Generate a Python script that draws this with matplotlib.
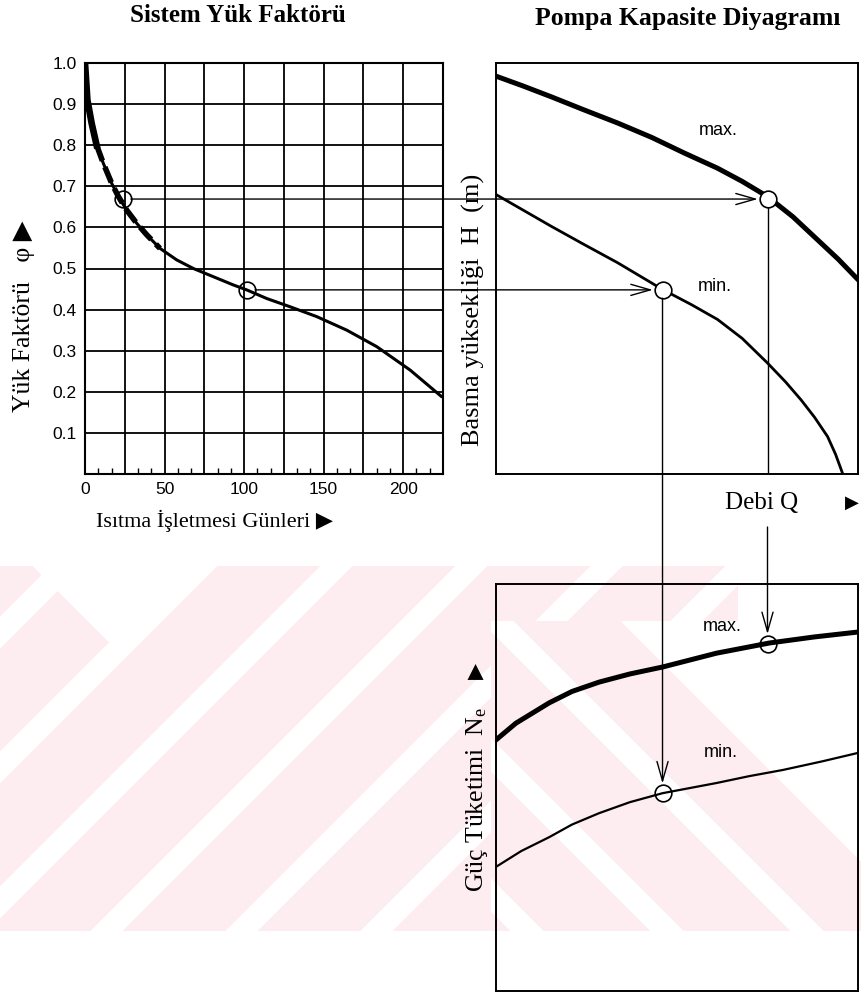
import numpy as np
import matplotlib
matplotlib.use("Agg")
import matplotlib.pyplot as plt
from matplotlib.patches import ConnectionPatch
from matplotlib import transforms

plt.rcParams["mathtext.fontset"] = "custom"
plt.rcParams["mathtext.rm"] = "Liberation Serif"
plt.rcParams["mathtext.it"] = "Liberation Serif"

SERIF = ["Liberation Serif", "DejaVu Sans"]
SANS = ["Liberation Sans", "DejaVu Sans"]

# Sistem yük faktörü eğrisi (ısıtma günü, φ)
days = [0, 1.5, 4.2, 7.3, 11.5, 16.8, 21.0, 26.2, 32.5, 38.8, 47.1, 57.6,
        68.1, 80.7, 93.2, 101.6, 114.2, 128.8, 145.6, 164.5, 183.3, 204.3, 224.2]
phi = [1.0, 0.91, 0.853, 0.80, 0.756, 0.707, 0.675, 0.642, 0.61, 0.582, 0.549, 0.521,
       0.50, 0.48, 0.46, 0.448, 0.427, 0.407, 0.383, 0.35, 0.31, 0.253, 0.188]
op_days = [23.6, 101.6]
op_phi = [0.669, 0.448]
x_ticks = [0, 50, 100, 150, 200]
y_ticks = [0.1, 0.2, 0.3, 0.4, 0.5, 0.6, 0.7, 0.8, 0.9, 1.0]

# Pompa karakteristiği (Q, H) - max / min devir
q_hmax = [0, 7.5, 15.2, 24, 33.6, 43, 52.0, 61.2, 68, 75.0, 82, 88.8, 94.5, 100]
h_max = [96.8, 94.4, 91.8, 88.7, 85.4, 81.9, 78.1, 74.4, 71.2, 67.5, 62.6, 57.0, 52.3, 47.3]
q_hmin = [0, 7.5, 15.2, 24, 33.6, 46.0, 54, 61.2, 68, 75.0, 80, 84.3, 88, 91.6, 93.8, 95.8]
h_min = [68.0, 64.2, 60.3, 56.0, 51.4, 44.9, 41.2, 37.6, 33.0, 27.0, 22.4, 18.0, 13.8, 9.1, 4.8, 0]
op_q = [75.0, 46.0]
op_h = [66.9, 44.8]

# Güç tüketimi (Q, Ne)
q_nmax = [0, 5.5, 14.7, 21, 28.5, 37, 46.0, 60.9, 75.5, 88, 100]
n_max = [61.7, 65.8, 70.8, 73.6, 75.9, 77.9, 79.6, 83.0, 85.5, 87.0, 88.2]
q_nmin = [0, 7, 14.7, 21, 28.5, 37, 46.0, 60.9, 70, 79.2, 90, 100]
n_min = [30.5, 34.4, 37.8, 40.9, 43.7, 46.4, 48.6, 51.1, 52.8, 54.3, 56.4, 58.5]
op_n = [85.3, 48.6]

W, H = 861, 994
fig = plt.figure(figsize=(W / 100, H / 100), dpi=100)


def fx(px):
    return px / W


def fy(py):
    return 1 - py / H


# background watermark (pale pink stripes)
bg = fig.add_axes([0, 0, 1, 1], zorder=-10)
Yg, Xg = np.mgrid[0:H, 0:W]
band = (Yg >= 566) & (Yg <= 930)
back_zone = (Xg > 490) & (Yg > 620)
slash_gap = ((Xg + Yg - 886) % 135) < 32
v_gap = (Xg - Yg > -534) & (Xg + Yg < 783)
slash_part = ~back_zone & ~slash_gap & ~v_gap & (Xg <= 737)
back_gap = ((Xg - Yg + 280) % 140) < 33
back_part = back_zone & ~back_gap & ((Xg - Yg) < 0)
mask = band & (slash_part | back_part)
img = np.ones((H, W, 3))
img[mask] = np.array([253, 236, 240]) / 255
bg.imshow(img, extent=[0, W, H, 0], aspect="auto", interpolation="nearest")
bg.set_axis_off()

# --- Sistem Yük Faktörü ---
ax1 = fig.add_axes([fx(85), fy(474), fx(358), 411 / H])
ax1.set_facecolor("none")
ax1.plot(days, phi, color="black", lw=2.2, solid_capstyle="round", zorder=3)
ax1.plot(days[:4], phi[:4], color="black", lw=4.8, zorder=3)
ax1.plot(days[3:11], phi[3:11], color="black", lw=4, dashes=(3, 1.2), zorder=3)
ax1.plot(op_days, op_phi, "o", ms=12, mfc="none", mec="black", mew=1.2, zorder=4)
ax1.set_xlim(0, 225)
ax1.set_ylim(0, 1.0)
ax1.set_xticks(np.arange(0, 226, 25))
ax1.set_xticklabels([str(v) if v in x_ticks else "" for v in range(0, 226, 25)])
ax1.set_xticks(np.arange(0, 225, 25 / 3), minor=True)
ax1.set_yticks(y_ticks)
ax1.set_yticklabels([f"{v:.1f}" for v in y_ticks])
ax1.grid(True, which="major", color="black", lw=1.3)
ax1.tick_params(which="major", length=0, labelsize=12.5, pad=6)
ax1.tick_params(which="minor", direction="in", length=4, width=1, left=False)
for lab in ax1.get_xticklabels() + ax1.get_yticklabels():
    lab.set_family(SANS)
for s in ax1.spines.values():
    s.set_linewidth(1.5)

# --- Pompa Kapasite Diyagramı ---
ax2 = fig.add_axes([fx(496), fy(474), fx(362), 411 / H])
ax2.set_facecolor("none")
ax2.plot(q_hmax, h_max, color="black", lw=3.6, zorder=3)
ax2.plot(q_hmin, h_min, color="black", lw=2.0, zorder=3)
ax2.plot(op_q, op_h, "o", ms=12, mfc="white", mec="black", mew=1.2, zorder=4)
ax2.set_xlim(0, 100)
ax2.set_ylim(0, 100)
ax2.set_xticks([])
ax2.set_yticks([])
for s in ax2.spines.values():
    s.set_linewidth(1.4)
ax2.text(61.5, 83.5, "max.", family=SANS, fontsize=13, ha="center", va="center")
ax2.text(60.5, 45.5, "min.", family=SANS, fontsize=13, ha="center", va="center")
ax2.plot([op_q[0], op_q[0]], [op_h[0], 0], color="black", lw=1.0, zorder=2)

# --- Güç Tüketimi ---
ax3 = fig.add_axes([fx(496), fy(991), fx(362), 407 / H])
ax3.set_facecolor("none")
ax3.plot(q_nmax, n_max, color="black", lw=3.6, zorder=3)
ax3.plot(q_nmin, n_min, color="black", lw=1.6, zorder=3)
ax3.plot(op_q, op_n, "o", ms=12, mfc="none", mec="black", mew=1.2, zorder=4)
ax3.set_xlim(0, 100)
ax3.set_ylim(0, 100)
ax3.set_xticks([])
ax3.set_yticks([])
for s in ax3.spines.values():
    s.set_linewidth(1.4)
ax3.text(62.5, 89.5, "max.", family=SANS, fontsize=13, ha="center", va="center")
ax3.text(62, 58.5, "min.", family=SANS, fontsize=13, ha="center", va="center")

arrow = "->,head_length=1.4,head_width=0.4"
# φ -> H
for i in range(2):
    con = ConnectionPatch(xyA=(op_days[i], op_phi[i]), coordsA=ax1.transData,
                          xyB=(op_q[i], op_h[i]), coordsB=ax2.transData,
                          arrowstyle=arrow, shrinkA=6, shrinkB=7,
                          color="black", lw=1.0, zorder=5)
    fig.add_artist(con)
# Q (max) -> Ne (max)
blend = transforms.blended_transform_factory(ax3.transData, fig.transFigure)
con = ConnectionPatch(xyA=(op_q[0], fy(527)), coordsA=blend,
                      xyB=(op_q[0], op_n[0]), coordsB=ax3.transData,
                      arrowstyle=arrow, shrinkA=0, shrinkB=7,
                      color="black", lw=1.0, zorder=5)
fig.add_artist(con)
# Q (min) -> Ne (min)
con = ConnectionPatch(xyA=(op_q[1], op_h[1]), coordsA=ax2.transData,
                      xyB=(op_q[1], op_n[1]), coordsB=ax3.transData,
                      arrowstyle=arrow, shrinkA=6, shrinkB=7,
                      color="black", lw=1.0, zorder=5)
fig.add_artist(con)

# titles and axis labels
fig.text(fx(238), fy(15), "Sistem Yük Faktörü", family=SERIF, weight="bold",
         fontsize=18, ha="center", va="center")
fig.text(fx(688), fy(19), "Pompa Kapasite Diyagramı", family=SERIF, weight="bold",
         fontsize=18.5, ha="center", va="center")
fig.text(fx(215), fy(521), "Isıtma İşletmesi Günleri ▶", family=SERIF,
         fontsize=16, ha="center", va="center")
fig.text(fx(24), fy(316), "Yük Faktörü   φ ▶", family=SERIF, fontsize=18.5,
         rotation=90, ha="center", va="center")
fig.text(fx(473), fy(310), "Basma yüksekliği  H  (m)", family=SERIF, fontsize=19,
         rotation=90, ha="center", va="center")
fig.text(fx(477), fy(800), r"Güç Tüketimi  N$_\mathrm{e}$", family=SERIF,
         fontsize=18.5, rotation=90, ha="center", va="center")
fig.text(fx(476), fy(671), "▶", family=["DejaVu Sans"], fontsize=15,
         rotation=90, ha="center", va="center")
fig.text(fx(762), fy(503), "Debi Q", family=SERIF, fontsize=18,
         ha="center", va="center")
fig.text(fx(852), fy(503), "▶", family=["DejaVu Sans"], fontsize=13,
         ha="center", va="center")

fig.savefig("out.png", dpi=100)
